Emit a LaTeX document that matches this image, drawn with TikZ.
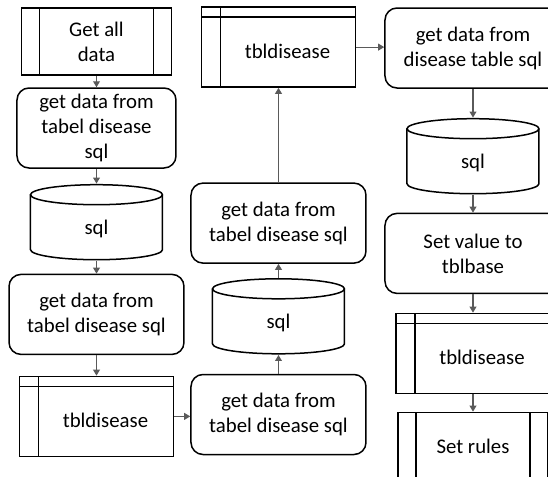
\documentclass[tikz,border=0pt]{standalone}
\usepackage{fontspec}
\setmainfont{Carlito}
\usetikzlibrary{arrows.meta, positioning}
\definecolor{linegray}{RGB}{90,90,90}

\begin{document}
\begin{tikzpicture}[
    x=0.5pt, y=-0.5pt,
    font=\fontsize{10.4}{12.5}\selectfont,
    >={Triangle[length=3pt, width=3.4pt]},
    % Block styles
    procbox/.style={
        rectangle, draw=black, fill=white,
        minimum width=87.5pt, minimum height=40pt,
        align=center, rounded corners=6pt,
        inner sep=1pt, line width=0.75pt
    },
    predefbox/.style={
        rectangle, draw=black, fill=white,
        minimum width=75pt, minimum height=33.5pt,
        align=center, inner sep=1pt, line width=0.75pt,
        path picture={
            \draw[line width=0.75pt] ([xshift=9pt]path picture bounding box.north west) -- ([xshift=9pt]path picture bounding box.south west);
            \draw[line width=0.75pt] ([xshift=-9pt]path picture bounding box.north east) -- ([xshift=-9pt]path picture bounding box.south east);
        }
    },
    tablebox/.style={
        rectangle, draw=black, fill=white,
        minimum width=77pt, minimum height=40pt,
        align=center, inner sep=1pt, line width=0.75pt,
        text depth=0pt, text height=11.5pt,
        execute at begin node=\hspace*{9pt},
        path picture={
            \draw[line width=0.75pt] ([xshift=9.5pt]path picture bounding box.north west) -- ([xshift=9.5pt]path picture bounding box.south west);
            \draw[line width=0.75pt] ([yshift=-5pt]path picture bounding box.north west) -- ([yshift=-5pt]path picture bounding box.north east);
        }
    },
    dbnode/.style={
        rectangle, draw=none, fill=white,
        minimum width=66.75pt, minimum height=38.25pt,
        inner sep=0pt, text height=14pt, text depth=2pt,
        path picture={
            \draw[line width=0.75pt]
                ([xshift=0.375pt, yshift=-5.375pt]path picture bounding box.north west)
                -- ([xshift=0.375pt, yshift=5.375pt]path picture bounding box.south west)
                arc[start angle=180, end angle=360, x radius=33pt, y radius=5pt]
                -- ([xshift=-0.375pt, yshift=-5.375pt]path picture bounding box.north east);
            \draw[line width=0.75pt]
                ([yshift=-5.375pt]path picture bounding box.north)
                ellipse[x radius=33pt, y radius=5pt];
        }
    },
    arrow/.style={
        ->, line width=0.6pt, color=linegray
    },
]

\useasboundingbox (0,0) rectangle (548,477);

% ===== COLUMN 1 =====
\node[predefbox] (getall) at (96.5,41.5) {Get all\\data};
\node[procbox, minimum width=79.5pt, below=5.75pt of getall] (getsql1) {get data from\\tabel disease\\sql};
\node[dbnode, below=7.4pt of getsql1] (sql1) {sql};
\node[procbox, below=6.4pt of sql1] (getsql2) {get data from\\tabel disease sql};
\node[tablebox, below=10.25pt of getsql2] (tbl1) {tbldisease};

% ===== COLUMN 2 =====
\node[procbox] (getsql3) at (278.5,414.5) {get data from\\tabel disease sql};
\node[dbnode, above=9.4pt of getsql3] (sql2) {sql};
\node[procbox, above=6.9pt of sql2] (getsql4) {get data from\\tabel disease sql};
\node[tablebox, above=47.25pt of getsql4] (tbl2) {tbldisease};

% ===== COLUMN 3 =====
\node[procbox, minimum width=88pt] (getsql5) at (473,48) {get data from\\disease table sql};
\node[dbnode, below=14.4pt of getsql5] (sql3) {sql};
\node[procbox, minimum width=88pt, below=8.9pt of sql3] (setval) {Set value to\\tblbase};
\node[tablebox, below=9.25pt of setval] (tbl3) {tbldisease};
\node[predefbox, below=8.75pt of tbl3] (setrules) {Set rules};

% ===== ARROWS =====
\draw[arrow] (getall) -- (getsql1);
\draw[arrow] (getsql1) -- (sql1);
\draw[arrow] (sql1) -- (getsql2);
\draw[arrow] (getsql2) -- (tbl1);
\draw[arrow] (tbl1.east) -- (tbl1.east -| getsql3.west);

\draw[arrow] (getsql3) -- (sql2);
\draw[arrow] (sql2) -- (getsql4);
\draw[arrow] (getsql4) -- (tbl2);
\draw[arrow] (tbl2.east) -- (tbl2.east -| getsql5.west);

\draw[arrow] (getsql5) -- (sql3);
\draw[arrow] (sql3) -- (setval);
\draw[arrow] (setval) -- (tbl3);
\draw[arrow] (tbl3) -- (setrules);

\end{tikzpicture}
\end{document}
